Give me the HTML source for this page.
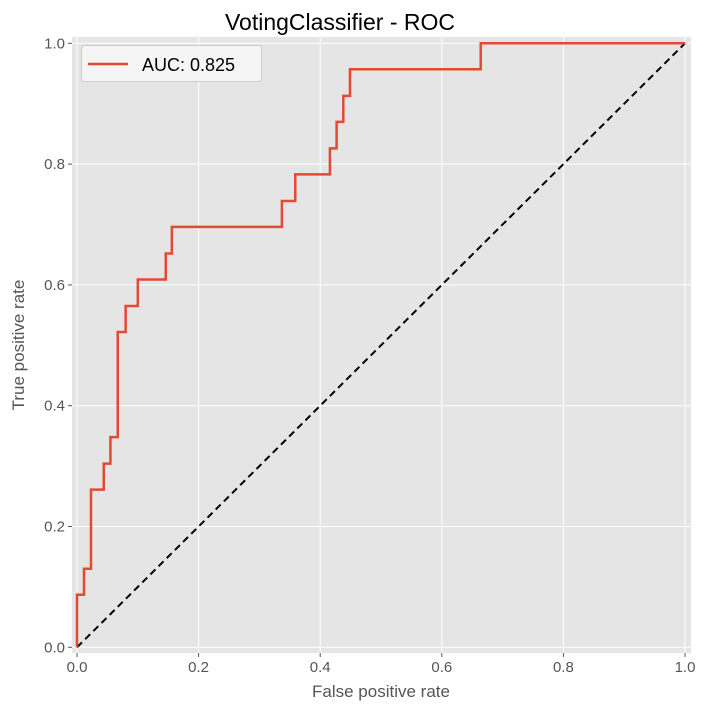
<!DOCTYPE html>
<html><head><meta charset="utf-8"><style>
body{margin:0;background:#fff;font-family:"Liberation Sans","DejaVu Sans",sans-serif}
svg text{font-family:"Liberation Sans","DejaVu Sans",sans-serif}
</style></head><body>
<svg id="c" width="707" height="712"></svg>
<script>
const fpr=[0,0,0.0115,0.0115,0.023,0.023,0.044,0.044,0.055,0.055,0.067,0.067,0.08,0.08,0.1,0.1,0.146,0.146,0.156,0.156,0.337,0.337,0.359,0.359,0.416,0.416,0.427,0.427,0.438,0.438,0.449,0.449,0.664,0.664,1];
const tpr=[0,0.087,0.087,0.13,0.13,0.261,0.261,0.304,0.304,0.348,0.348,0.522,0.522,0.565,0.565,0.609,0.609,0.652,0.652,0.696,0.696,0.739,0.739,0.783,0.783,0.826,0.826,0.87,0.87,0.913,0.913,0.957,0.957,1,1];
const ticks=[0,0.2,0.4,0.6,0.8,1.0];
const tickLabels=["0.0","0.2","0.4","0.6","0.8","1.0"];
const aucLabel="AUC: 0.825";
const NS="http://www.w3.org/2000/svg",svg=document.getElementById('c');
const L=72,R=691,T=37,B=653;
const sx=v=>77+v*608, sy=v=>647.3-v*604;
function mk(t,a,p){const e=document.createElementNS(NS,t);for(const k in a)e.setAttribute(k,a[k]);(p||svg).appendChild(e);return e;}
let bg=mk('rect',{x:L,y:T,width:R-L,height:B-T,fill:'#e5e5e5'});


ticks.forEach((t,i)=>{
 let g=mk('line',{x1:sx(t),x2:sx(t),y1:T,y2:B,stroke:'#fff','stroke-width':1});
 
 
 let h=mk('line',{x1:L,x2:R,y1:sy(t),y2:sy(t),stroke:'#fff','stroke-width':1});
 
 
 mk('line',{x1:sx(t),x2:sx(t),y1:B,y2:B+4,stroke:'#555'});
 mk('line',{x1:L-4,x2:L,y1:sy(t),y2:sy(t),stroke:'#555'});
 let xt=mk('text',{x:sx(t),y:B+19,'text-anchor':'middle','font-size':15,fill:'#555'});xt.textContent=tickLabels[i];
 
 
 let yt=mk('text',{x:L-7,y:sy(t)+5,'text-anchor':'end','font-size':15,fill:'#555'});yt.textContent=tickLabels[i];
 
 
});
let d=mk('line',{x1:sx(0),y1:sy(0),x2:sx(1),y2:sy(1),stroke:'#000','stroke-width':2,'stroke-dasharray':'7,4.5'});


let pts=fpr.map((f,i)=>sx(f)+','+sy(tpr[i])).join(' ');
let roc=mk('polyline',{points:pts,fill:'none',stroke:'#e24a33','stroke-width':2.5});


let title=mk('text',{x:340,y:30,'text-anchor':'middle','font-size':23,fill:'#000'});title.textContent='VotingClassifier - ROC';


let xl=mk('text',{x:381,y:697,'text-anchor':'middle','font-size':17,fill:'#555'});xl.textContent='False positive rate';


let yl=mk('text',{x:0,y:0,'text-anchor':'middle','font-size':17,fill:'#555',transform:'translate(24,345) rotate(-90)'});yl.textContent='True positive rate';


let lg=mk('g',{});


mk('rect',{x:81.5,y:45.5,width:180,height:36,rx:3,fill:'#f5f5f5',stroke:'#ccc'},lg);
mk('line',{x1:88,x2:128,y1:64,y2:64,stroke:'#e24a33','stroke-width':2.5},lg);
let lt=mk('text',{x:142,y:71,'font-size':18,fill:'#000'},lg);lt.textContent=aucLabel;


</script>
</body></html>
